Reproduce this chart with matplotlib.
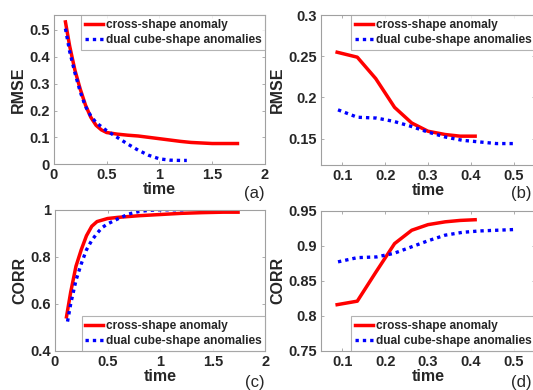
import numpy as np
import matplotlib
matplotlib.use("Agg")
import matplotlib.pyplot as plt

plt.rcParams['font.family'] = ['Liberation Sans', 'DejaVu Sans']
plt.rcParams['font.weight'] = 'bold'
plt.rcParams['axes.labelweight'] = 'bold'

LABELS = ['cross-shape anomaly', 'dual cube-shape anomalies']

# (a) RMSE, long time range
ta_cross = [0.11, 0.15, 0.2, 0.25, 0.3, 0.35, 0.4, 0.45, 0.5, 0.6, 0.7, 0.8,
            0.9, 1.0, 1.1, 1.2, 1.3, 1.4, 1.5, 1.6, 1.74]
ra_cross = [0.53, 0.44, 0.35, 0.28, 0.22, 0.175, 0.145, 0.128, 0.118, 0.112,
            0.108, 0.105, 0.1, 0.095, 0.09, 0.085, 0.081, 0.079, 0.077, 0.077, 0.077]
ta_dual = [0.11, 0.15, 0.2, 0.25, 0.3, 0.35, 0.4, 0.5, 0.6, 0.7, 0.8, 0.9,
           1.0, 1.1, 1.2, 1.26]
ra_dual = [0.505, 0.42, 0.34, 0.27, 0.215, 0.18, 0.155, 0.125, 0.1, 0.075,
           0.052, 0.033, 0.02, 0.015, 0.014, 0.014]

# (b) RMSE, short time range
tb_cross = [0.088, 0.135, 0.178, 0.222, 0.262, 0.3, 0.34, 0.375, 0.41]
rb_cross = [0.255, 0.249, 0.223, 0.188, 0.169, 0.159, 0.155, 0.153, 0.153]
tb_dual = [0.09, 0.135, 0.18, 0.22, 0.26, 0.3, 0.34, 0.38, 0.42, 0.46, 0.5]
rb_dual = [0.185, 0.176, 0.175, 0.171, 0.165, 0.158, 0.152, 0.148, 0.146, 0.144, 0.144]

# (c) CORR, long time range
tc_cross = [0.11, 0.15, 0.2, 0.25, 0.3, 0.35, 0.4, 0.5, 0.6, 0.8, 1.0, 1.2,
            1.4, 1.6, 1.74]
cc_cross = [0.545, 0.65, 0.76, 0.83, 0.89, 0.93, 0.95, 0.963, 0.968, 0.975,
            0.98, 0.985, 0.988, 0.99, 0.99]
tc_dual = [0.12, 0.15, 0.2, 0.25, 0.3, 0.35, 0.4, 0.45, 0.5, 0.6, 0.7, 0.8,
           0.9, 1.0, 1.1, 1.24]
cc_dual = [0.525, 0.6, 0.7, 0.77, 0.83, 0.87, 0.9, 0.925, 0.94, 0.962, 0.982,
           0.993, 0.998, 1.0, 1.0, 1.0]

# (d) CORR, short time range
td_cross = [0.088, 0.135, 0.178, 0.222, 0.262, 0.3, 0.34, 0.375, 0.41]
cd_cross = [0.816, 0.821, 0.862, 0.903, 0.922, 0.930, 0.934, 0.936, 0.937]
td_dual = [0.09, 0.135, 0.18, 0.22, 0.26, 0.3, 0.34, 0.38, 0.42, 0.46, 0.5]
cd_dual = [0.877, 0.883, 0.884, 0.889, 0.898, 0.907, 0.915, 0.919, 0.921, 0.922, 0.923]

TXT = '#262626'
SPINE = '#a0a0a0'

fig = plt.figure(figsize=(5.33, 3.9), dpi=100)

panels = [
    # rect, x1, y1, x2, y2, ylabel, xlim, ylim, xticks, yticks, legend loc, tag, tag pos
    ([0.101, 0.579, 0.396, 0.382], ta_cross, ra_cross, ta_dual, ra_dual, 'RMSE',
     (0, 2), (0, 0.555), [0, 0.5, 1, 1.5, 2], [0, 0.1, 0.2, 0.3, 0.4, 0.5],
     'upper right', '(a)', (0.478, 0.505)),
    ([0.602, 0.577, 0.402, 0.384], tb_cross, rb_cross, tb_dual, rb_dual, 'RMSE',
     (0.05, 0.55), (0.118, 0.3), [0.1, 0.2, 0.3, 0.4, 0.5], [0.15, 0.2, 0.25, 0.3],
     'upper right', '(b)', (0.978, 0.505)),
    ([0.103, 0.100, 0.395, 0.362], tc_cross, cc_cross, tc_dual, cc_dual, 'CORR',
     (0, 2), (0.4, 1.0), [0, 0.5, 1, 1.5, 2], [0.4, 0.6, 0.8, 1],
     'lower right', '(c)', (0.478, 0.018)),
    ([0.602, 0.100, 0.402, 0.360], td_cross, cd_cross, td_dual, cd_dual, 'CORR',
     (0.05, 0.55), (0.75, 0.95), [0.1, 0.2, 0.3, 0.4, 0.5], [0.75, 0.8, 0.85, 0.9, 0.95],
     'lower right', '(d)', (0.978, 0.018)),
]

for (rect, x1, y1, x2, y2, ylab, xlim, ylim, xt, yt, loc, tag, tpos) in panels:
    ax = fig.add_axes(rect)
    ax.plot(x1, y1, color='#ff0000', lw=2.5, label=LABELS[0])
    ax.plot(x2, y2, color='#0000ff', lw=2.4, ls=(0, (1, 1.2)), label=LABELS[1])
    ax.set_xlim(*xlim)
    ax.set_ylim(*ylim)
    ax.set_xticks(xt)
    ax.set_yticks(yt)
    ax.set_xticklabels([f'{v:g}' for v in xt], fontweight='bold')
    ax.set_yticklabels([f'{v:g}' for v in yt], fontweight='bold')
    ax.tick_params(direction='in', length=2.5, width=0.6, colors=SPINE,
                   labelcolor=TXT, labelsize=10.5, top=True, right=True, pad=3)
    for s in ax.spines.values():
        s.set_color(SPINE)
        s.set_linewidth(0.8)
    ax.set_xlabel('time', fontsize=11.5, color=TXT, labelpad=0, fontweight='bold')
    ax.set_ylabel(ylab, fontsize=11.5, color=TXT, labelpad=2, fontweight='bold')
    leg = ax.legend(loc=loc, frameon=True, fancybox=False,
                    prop={'size': 8.6, 'weight': 'bold'},
                    borderaxespad=0, handlelength=1.5, handletextpad=0.25,
                    borderpad=0.3, labelspacing=0.3, edgecolor=SPINE)
    leg.get_frame().set_linewidth(0.8)
    for t in leg.get_texts():
        t.set_color(TXT)
    fig.text(tpos[0], tpos[1], tag, fontsize=12, fontweight='normal',
             color=TXT, ha='center', va='center')

fig.savefig('out.png', dpi=100)
